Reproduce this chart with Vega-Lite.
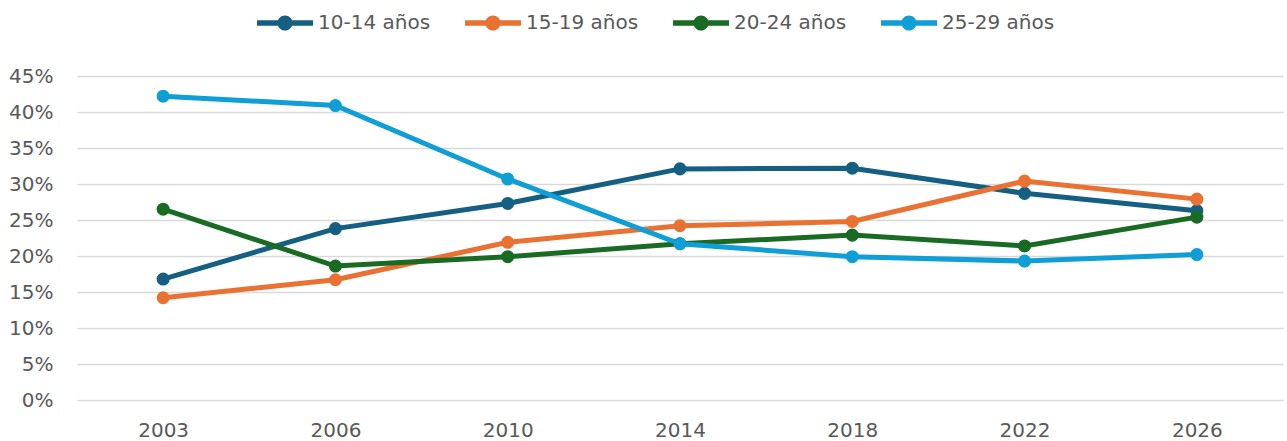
{
  "$schema": "https://vega.github.io/schema/vega-lite/v6.json",
  "width": 1206,
  "height": 324,
  "autosize": "none",
  "padding": {"left": 77, "top": 76, "right": 4, "bottom": 41},
  "background": "white",
  "config": {
    "view": {"stroke": null},
    "font": "DejaVu Sans",
    "axis": {"labelFont": "DejaVu Sans", "labelFontSize": 20, "labelColor": "#595959"},
    "legend": {"labelFont": "DejaVu Sans", "labelFontSize": 20, "labelColor": "#595959"}
  },
  "data": {
    "values": [
      {"year": "2003", "group": "10-14 años", "value": 0.168},
      {"year": "2006", "group": "10-14 años", "value": 0.238},
      {"year": "2010", "group": "10-14 años", "value": 0.273},
      {"year": "2014", "group": "10-14 años", "value": 0.321},
      {"year": "2018", "group": "10-14 años", "value": 0.322},
      {"year": "2022", "group": "10-14 años", "value": 0.287},
      {"year": "2026", "group": "10-14 años", "value": 0.263},
      {"year": "2003", "group": "15-19 años", "value": 0.142},
      {"year": "2006", "group": "15-19 años", "value": 0.167},
      {"year": "2010", "group": "15-19 años", "value": 0.219},
      {"year": "2014", "group": "15-19 años", "value": 0.242},
      {"year": "2018", "group": "15-19 años", "value": 0.248},
      {"year": "2022", "group": "15-19 años", "value": 0.304},
      {"year": "2026", "group": "15-19 años", "value": 0.279},
      {"year": "2003", "group": "20-24 años", "value": 0.265},
      {"year": "2006", "group": "20-24 años", "value": 0.186},
      {"year": "2010", "group": "20-24 años", "value": 0.199},
      {"year": "2014", "group": "20-24 años", "value": 0.217},
      {"year": "2018", "group": "20-24 años", "value": 0.229},
      {"year": "2022", "group": "20-24 años", "value": 0.214},
      {"year": "2026", "group": "20-24 años", "value": 0.254},
      {"year": "2003", "group": "25-29 años", "value": 0.422},
      {"year": "2006", "group": "25-29 años", "value": 0.409},
      {"year": "2010", "group": "25-29 años", "value": 0.307},
      {"year": "2014", "group": "25-29 años", "value": 0.217},
      {"year": "2018", "group": "25-29 años", "value": 0.199},
      {"year": "2022", "group": "25-29 años", "value": 0.193},
      {"year": "2026", "group": "25-29 años", "value": 0.202}
    ]
  },
  "encoding": {
    "x": {
      "field": "year",
      "type": "ordinal",
      "scale": {"type": "point", "padding": 0.5},
      "axis": {"title": null, "labelAngle": 0, "domain": false, "ticks": false, "labelPadding": 20, "grid": false}
    },
    "y": {
      "field": "value",
      "type": "quantitative",
      "scale": {"domain": [0, 0.45], "nice": false},
      "axis": {
        "title": null,
        "values": [0, 0.05, 0.1, 0.15, 0.2, 0.25, 0.3, 0.35, 0.4, 0.45],
        "format": ".0%",
        "domain": false,
        "ticks": false,
        "labelPadding": 24,
        "grid": true,
        "gridColor": "#d9d9d9",
        "gridWidth": 1.5
      }
    },
    "color": {
      "field": "group",
      "type": "nominal",
      "scale": {
        "domain": ["10-14 años", "15-19 años", "20-24 años", "25-29 años"],
        "range": ["#156082", "#E97132", "#196B24", "#0F9ED5"]
      },
      "legend": {
        "title": null,
        "orient": "none",
        "direction": "horizontal",
        "legendX": 180,
        "legendY": -81,
        "symbolType": "M-1,-0.1H1V0.1H-1Z M-0.27,0A0.27,0.27 0 1,1 0.27,0A0.27,0.27 0 1,1 -0.27,0Z",
        "symbolSize": 3136,
        "symbolStrokeWidth": 0,
        "labelOffset": 5,
        "columnPadding": 34,
        "encode": {
          "symbols": {
            "update": {
              "fill": {"scale": "color", "field": "value"},
              "stroke": {"value": "transparent"},
              "strokeWidth": {"value": 0},
              "opacity": {"value": 1}
            }
          }
        }
      }
    }
  },
  "layer": [
    {"mark": {"type": "line", "strokeWidth": 5}},
    {"mark": {"type": "point", "filled": true, "size": 170, "opacity": 1}}
  ]
}
